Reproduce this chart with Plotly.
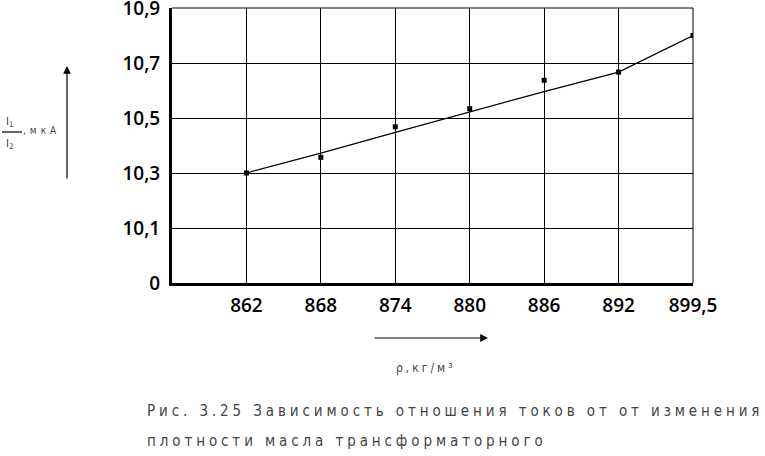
import plotly.graph_objects as go

# ---- data ----
density = ["862", "868", "874", "880", "886", "892", "899,5"]
measured = [10.30, 10.357, 10.468, 10.534, 10.637, 10.667, 10.80]
fitted = [10.30, 10.372, 10.448, 10.523, 10.596, 10.667, 10.80]
y_tickvals = [9.9, 10.1, 10.3, 10.5, 10.7, 10.9]
y_ticktext = ["0", "10,1", "10,3", "10,5", "10,7", "10,9"]

W, H = 765, 456
L, R, T, B = 172, 72, 8, 173
pw, ph = W - L - R, H - T - B


def px(x):
    return (x - L) / pw


def py(y):
    return (H - B - y) / ph


fig = go.Figure()
fig.add_trace(go.Scatter(x=density, y=fitted, mode="lines",
                         line=dict(color="black", width=1.2), showlegend=False))
fig.add_trace(go.Scatter(x=density, y=measured, mode="markers",
                         marker=dict(symbol="square", size=5, color="black"),
                         showlegend=False))

tickfont = dict(family="Open Sans, Liberation Sans, sans-serif", size=19,
                color="black", weight=600)

fig.update_xaxes(type="category", range=[-1, 6], showgrid=True, gridcolor="black",
                 gridwidth=1, showline=True, linecolor="black", linewidth=3,
                 ticks="", tickfont=tickfont, ticklabelstandoff=3, zeroline=False,
                 ticklabeloverflow="allow", automargin=False)
fig.update_yaxes(range=[9.9, 10.9], tickvals=y_tickvals, ticktext=y_ticktext,
                 showgrid=True, gridcolor="black", gridwidth=1, showline=True,
                 linecolor="black", linewidth=3, ticks="", tickfont=tickfont,
                 ticklabelstandoff=5, zeroline=False, ticklabeloverflow="allow",
                 automargin=False)

# top and right border (thin)
fig.add_shape(type="line", xref="paper", yref="paper", x0=0, x1=1, y0=1, y1=1,
              line=dict(color="black", width=1))
fig.add_shape(type="line", xref="paper", yref="paper", x0=1, x1=1, y0=0, y1=1,
              line=dict(color="black", width=1))
# fraction bar of the y label
fig.add_shape(type="line", xref="paper", yref="paper", x0=px(2), x1=px(22),
              y0=py(132), y1=py(132), line=dict(color="black", width=1.2))

small = dict(family="Liberation Sans Narrow, DejaVu Sans Condensed, Liberation Sans, sans-serif",
             color="#444")
ann = []
# vertical arrow
ann.append(dict(x=px(67), y=py(66), xref="paper", yref="paper", text="",
                showarrow=True, ax=0, ay=114, arrowhead=2, arrowsize=1.3,
                arrowwidth=1.2, arrowcolor="black"))
# horizontal arrow
ann.append(dict(x=px(488), y=py(338), xref="paper", yref="paper", text="",
                showarrow=True, ax=-115, ay=0, arrowhead=2, arrowsize=1.3,
                arrowwidth=1.2, arrowcolor="black"))
# y label parts
ann.append(dict(x=px(4), y=py(122), xref="paper", yref="paper", xanchor="left",
                yanchor="middle", showarrow=False, text="I<sub>1</sub>",
                font=dict(size=11, **small)))
ann.append(dict(x=px(4), y=py(144), xref="paper", yref="paper", xanchor="left",
                yanchor="middle", showarrow=False, text="I<sub>2</sub>",
                font=dict(size=11, **small)))
ann.append(dict(x=px(21), y=py(130), xref="paper", yref="paper", xanchor="left",
                yanchor="middle", showarrow=False,
                text='<span style="letter-spacing:4px">,мкА</span>',
                font=dict(size=10, **small)))
# x label
ann.append(dict(x=px(394), y=py(368), xref="paper", yref="paper", xanchor="left",
                yanchor="middle", showarrow=False,
                text='<span style="letter-spacing:3px">ρ,кг/м³</span>',
                font=dict(size=12, **small)))
# caption
ann.append(dict(x=px(145), y=py(411), xref="paper", yref="paper", xanchor="left",
                yanchor="middle", showarrow=False,
                text='<span style="letter-spacing:3.9px">Рис. 3.25 Зависимость отношения токов от от изменения</span>',
                font=dict(size=15, **small)))
ann.append(dict(x=px(145), y=py(441), xref="paper", yref="paper", xanchor="left",
                yanchor="middle", showarrow=False,
                text='<span style="letter-spacing:3.9px">плотности масла трансформаторного</span>',
                font=dict(size=15, **small)))

fig.update_layout(width=W, height=H, margin=dict(l=L, r=R, t=T, b=B, autoexpand=False),
                  plot_bgcolor="white", paper_bgcolor="white", annotations=ann,
                  showlegend=False)

fig.write_html("out.html", config={"displayModeBar": False},
               post_script="document.body.style.margin='0';")
